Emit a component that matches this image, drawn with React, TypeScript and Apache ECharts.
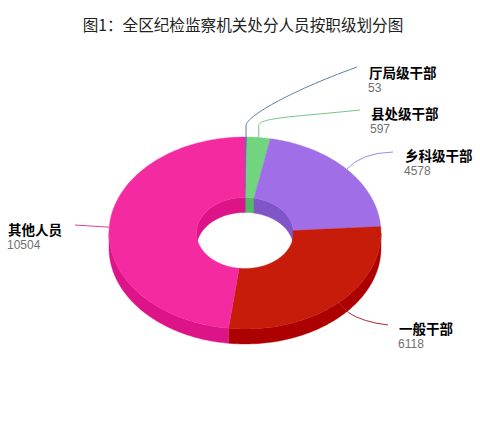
import React, { useEffect, useRef } from "react";
import * as echarts from "echarts";

const titleText = "图1：全区纪检监察机关处分人员按职级划分图";
const categories = ["厅局级干部", "县处级干部", "乡科级干部", "一般干部", "其他人员"];
const values = [53, 597, 4578, 6118, 10504];

const faceColors = ["#4f7db0", "#71d47f", "#a06fe8", "#c71c0a", "#f32aa0"];
const wallColors = ["#3a6496", "#55b865", "#7f55c8", "#ad0000", "#dc1488"];
const lineColors = ["#5b7fa3", "#74c486", "#a08ae0", "#b02a30", "#e0409f"];

// Layout only: connector end and label anchor for each slice.
const lineEnds = [[357, 67], [360, 110], [393, 152], [388, 325], [75, 225]];
const labelAnchors = [[369, 72], [371, 113], [405, 155], [399, 328], [8, 229]];

const CX = 245, CY = 233, RX = 136, RY = 96, IRX = 48.5, IRY = 35.5, DEPTH = 15;
const TOTAL = values.reduce((a, b) => a + b, 0);

function pt(deg: number, rx: number, ry: number, dy = 0): number[] {
  const r = (deg * Math.PI) / 180;
  return [CX + rx * Math.sin(r), CY - ry * Math.cos(r) + dy];
}
function arc(a: number, b: number, rx: number, ry: number, dy = 0): number[][] {
  const n = Math.max(2, Math.ceil(Math.abs(b - a)));
  const out: number[][] = [];
  for (let i = 0; i <= n; i++) out.push(pt(a + ((b - a) * i) / n, rx, ry, dy));
  return out;
}
function band(a: number, b: number, rx1: number, ry1: number, d1: number, rx2: number, ry2: number, d2: number) {
  return [...arc(a, b, rx1, ry1, d1), ...arc(b, a, rx2, ry2, d2)];
}
function poly(points: number[][], color: string, z2: number) {
  return {
    type: "polygon",
    z2,
    silent: true,
    shape: { points },
    style: { fill: color, stroke: color, lineWidth: 0.4 },
  };
}

function renderSlice(params: any, api: any) {
  const i = params.dataIndex;
  const before = values.slice(0, i).reduce((a, b) => a + b, 0);
  const start = (before / TOTAL) * 360;
  const end = start + (api.value(0) / TOTAL) * 360;
  const mid = (start + end) / 2;
  const children: any[] = [];

  // inner wall: back half of the hole (angles 270..360 and 0..90)
  for (const [lo, hi] of [[0, 90], [270, 360]]) {
    const a = Math.max(start, lo), b = Math.min(end, hi);
    if (b > a) children.push(poly(band(a, b, IRX, IRY, 0, IRX, IRY, DEPTH), wallColors[i], 1));
  }
  // outer wall: front half (angles 90..270)
  const fa = Math.max(start, 90), fb = Math.min(end, 270);
  if (fb > fa) children.push(poly(band(fa, fb, RX, RY, 0, RX, RY, DEPTH), wallColors[i], 1));
  // top face
  children.push(poly(band(start, end, RX, RY, 0, IRX, IRY, 0), faceColors[i], 2));

  // connector
  const [sx, sy] = pt(mid, RX, RY);
  const [ex, ey] = lineEnds[i];
  let d: string;
  if (mid < 20) {
    const ky = sy - 12;
    d = `M${sx} ${sy}L${sx} ${ky}C${sx + 1} ${ky - 8} ${sx + (ex - sx) * 0.35} ${ey + (ky - ey) * 0.45} ${ex} ${ey}`;
  } else if (mid < 90) {
    d = `M${sx} ${sy}Q${sx + 14} ${ey + 1} ${ex} ${ey}`;
  } else if (mid < 180) {
    d = `M${sx} ${sy}L${sx + 10} ${sy + 10}Q${sx + 24} ${ey - 3} ${ex} ${ey}`;
  } else {
    d = `M${sx} ${sy}L${ex} ${ey}`;
  }
  children.push({
    type: "path",
    z2: 3,
    silent: true,
    shape: { pathData: d },
    style: { fill: "none", stroke: lineColors[i], lineWidth: 1 },
  });

  // labels
  const [lx, ly] = labelAnchors[i];
  children.push({
    type: "text",
    z2: 4,
    silent: true,
    x: lx,
    y: ly,
    style: {
      text: categories[i],
      fill: "#000000",
      font: 'bold 13.5px "Noto Sans CJK SC"',
      textAlign: "left",
      textVerticalAlign: "middle",
    },
  });
  children.push({
    type: "text",
    z2: 4,
    silent: true,
    x: lx - 1,
    y: ly + 16,
    style: {
      text: String(api.value(0)),
      fill: "#707070",
      font: '12px "Liberation Sans"',
      textAlign: "left",
      textVerticalAlign: "middle",
    },
  });
  return { type: "group", children };
}

export default function App() {
  const ref = useRef<HTMLDivElement>(null);
  useEffect(() => {
    const chart = echarts.init(ref.current!, null, { renderer: "svg" });
    chart.setOption({
      animation: false,
      backgroundColor: "#ffffff",
      title: {
        text: titleText,
        left: 238,
        top: 11,
        textAlign: "center",
        textStyle: { fontFamily: "Noto Sans CJK SC", fontSize: 15.6, fontWeight: "normal", color: "#222222" },
      },
      series: [
        {
          type: "custom",
          coordinateSystem: "none",
          clip: false,
          renderItem: renderSlice,
          data: categories.map((name, i) => ({ name, value: [values[i]] })),
        },
      ],
    });
    return () => chart.dispose();
  }, []);
  return <div ref={ref} style={{ position: "absolute", left: 0, top: 0, width: 480, height: 432 }} />;
}
